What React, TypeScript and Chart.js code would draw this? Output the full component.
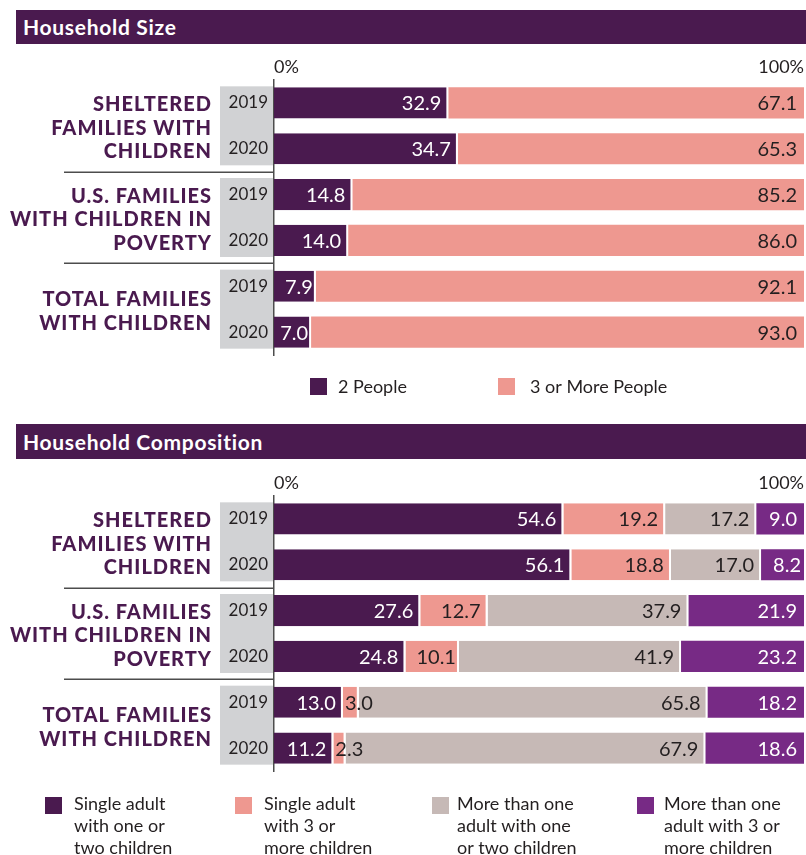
import React, { useEffect, useRef } from 'react';
import { Chart, registerables } from 'chart.js';

Chart.register(...registerables);

// ---------- data ----------
const years = ['2019', '2020', '2019', '2020', '2019', '2020'];
const groupLines = [
  ['SHELTERED', 'FAMILIES WITH', 'CHILDREN'],
  ['U.S. FAMILIES', 'WITH CHILDREN IN', 'POVERTY'],
  ['TOTAL FAMILIES', 'WITH CHILDREN'],
];
const xTicks = [0, 100];

const sizeTitle = 'Household Size';
const sizeSeries = [['2 People'], ['3 or More People']];
const twoPeople = [32.9, 34.7, 14.8, 14.0, 7.9, 7.0];
const threePlusPeople = [67.1, 65.3, 85.2, 86.0, 92.1, 93.0];

const compTitle = 'Household Composition';
const compSeries = [
  ['Single adult', 'with one or', 'two children'],
  ['Single adult', 'with 3 or', 'more children'],
  ['More than one', 'adult with one', 'or two children'],
  ['More than one', 'adult with 3 or', 'more children'],
];
const singleOneTwo = [54.6, 56.1, 27.6, 24.8, 13.0, 11.2];
const singleThreePlus = [19.2, 18.8, 12.7, 10.1, 3.0, 2.3];
const multiOneTwo = [17.2, 17.0, 37.9, 41.9, 65.8, 67.9];
const multiThreePlus = [9.0, 8.2, 21.9, 23.2, 18.2, 18.6];

// ---------- styles ----------
const PURPLE = '#4a1a4f';
const PINK = '#ee9890';
const TAUPE = '#c6b9b6';
const VIOLET = '#772a85';
const INK = '#231f20';
const GRAYBOX = '#d1d2d4';
const AXIS = '#4d4d4d';
const FONT = 'Lato, "Open Sans", sans-serif';

const decorPlugin = {
  id: 'decor',
  beforeDraw(chart: any) {
    const { ctx } = chart;
    const y = chart.scales.y;
    const meta = chart.getDatasetMeta(0);
    ctx.save();
    ctx.fillStyle = GRAYBOX;
    for (let g = 0; g < 3; g++) {
      const a = meta.data[2 * g];
      const b = meta.data[2 * g + 1];
      const top = a.y - a.height / 2 - 1;
      const bottom = b.y + b.height / 2 + 1;
      ctx.fillRect(y.left, top, y.right - y.left - 1, bottom - top);
    }
    ctx.restore();
  },
  afterDatasetsDraw(chart: any) {
    const { ctx, chartArea } = chart;
    ctx.save();
    ctx.font = `20px ${FONT}`;
    ctx.textBaseline = 'middle';
    chart.data.datasets.forEach((ds: any, di: number) => {
      const meta = chart.getDatasetMeta(di);
      meta.data.forEach((el: any, i: number) => {
        const v = ds.data[i];
        const left = Math.min(el.x, el.base);
        const right = Math.min(Math.max(el.x, el.base), chartArea.right);
        const w = right - left;
        const txt = v.toFixed(1);
        const tw = ctx.measureText(txt).width;
        ctx.fillStyle = ds.labelColor;
        if (tw + 16 <= w) {
          ctx.textAlign = 'right';
          ctx.fillText(txt, right - 7, el.y + 1);
        } else if (tw + 6 <= w) {
          ctx.textAlign = 'right';
          ctx.fillText(txt, right - 3, el.y + 1);
        } else {
          ctx.textAlign = 'left';
          ctx.fillText(txt, left + 2, el.y + 1);
        }
      });
    });
    ctx.restore();
  },
  afterDraw(chart: any, _args: any, opts: any) {
    const { ctx } = chart;
    const y = chart.scales.y;
    const meta = chart.getDatasetMeta(0);
    ctx.save();
    // separators
    ctx.strokeStyle = AXIS;
    ctx.lineWidth = 1.5;
    for (let g = 0; g < 2; g++) {
      const a = meta.data[2 * g + 1];
      const b = meta.data[2 * g + 2];
      const sy = Math.round((a.y + a.height / 2 + b.y - b.height / 2) / 2) + 0.25;
      ctx.beginPath();
      ctx.moveTo(64, sy);
      ctx.lineTo(y.right, sy);
      ctx.stroke();
    }
    // group labels
    ctx.fillStyle = PURPLE;
    ctx.font = `900 20px ${FONT}`;
    (ctx as any).letterSpacing = '1px';
    ctx.textAlign = 'right';
    ctx.textBaseline = 'middle';
    groupLines.forEach((lines, g) => {
      const cy = (meta.data[2 * g].y + meta.data[2 * g + 1].y) / 2;
      const lh = 23.5;
      lines.forEach((ln, k) => {
        ctx.fillText(ln, 212, cy + (k - (lines.length - 1) / 2) * lh + 2.5);
      });
    });
    (ctx as any).letterSpacing = '0px';
    // legend
    const lg = opts.legend;
    ctx.font = `18px ${FONT}`;
    ctx.textAlign = 'left';
    ctx.fillStyle = INK;
    chart.data.datasets.forEach((ds: any, di: number) => {
      ctx.fillStyle = ds.backgroundColor;
      ctx.fillRect(lg.squareX[di], lg.squareTop, 17, 17);
      ctx.fillStyle = INK;
      ds.legendLines.forEach((ln: string, k: number) => {
        ctx.fillText(ln, lg.textX[di], lg.textTop + k * lg.lineH);
      });
    });
    ctx.restore();
  },
};

function makeDataset(label: string[], data: number[], color: string, labelColor: string, last: boolean) {
  return {
    label: label.join(' '),
    legendLines: label,
    data,
    backgroundColor: color,
    labelColor,
    borderColor: '#ffffff',
    borderWidth: last ? 0 : { top: 0, right: 2, bottom: 0, left: 0 },
    borderSkipped: false,
    inflateAmount: 0,
    categoryPercentage: 1,
    barPercentage: 0.68,
  };
}

function buildConfig(datasets: any[], padTop: number, padBottom: number, legend: any): any {
  return {
    type: 'bar',
    data: { labels: years, datasets },
    options: {
      indexAxis: 'y',
      responsive: false,
      animation: false,
      events: [],
      layout: { padding: { left: 220, right: 2, top: padTop, bottom: padBottom } },
      scales: {
        x: {
          type: 'linear',
          position: 'top',
          stacked: true,
          min: 0,
          max: 100,
          afterFit: (s: any) => {
            s.height = 30;
          },
          afterBuildTicks: (s: any) => {
            s.ticks = xTicks.map((v) => ({ value: v }));
          },
          grid: { display: false, drawTicks: false },
          border: { display: false },
          ticks: {
            align: 'inner',
            padding: 2,
            maxRotation: 0,
            color: INK,
            font: { family: FONT, size: 18 },
            callback: (v: any) => v + '%',
          },
        },
        y: {
          type: 'category',
          stacked: true,
          afterFit: (s: any) => {
            s.width = 54;
          },
          grid: { display: false, drawTicks: false },
          border: { display: true, color: AXIS, width: 1.5 },
          ticks: { padding: 6, color: INK, font: { family: FONT, size: 17 } },
        },
      },
      plugins: {
        legend: { display: false },
        tooltip: { enabled: false },
        decor: { legend },
      },
    },
    plugins: [decorPlugin],
  };
}

const headerStyle = (top: number, height: number): React.CSSProperties => ({
  position: 'absolute',
  left: 16,
  top,
  width: 790,
  height,
  background: PURPLE,
  color: '#fff',
  fontFamily: FONT,
  fontWeight: 700,
  fontSize: 21,
  letterSpacing: '0.7px',
  lineHeight: height + 'px',
  paddingLeft: 7,
  boxSizing: 'border-box',
  zIndex: 2,
});

export default function App() {
  const ref1 = useRef<HTMLCanvasElement>(null);
  const ref2 = useRef<HTMLCanvasElement>(null);

  useEffect(() => {
    const sizeSets = [
      makeDataset(sizeSeries[0], twoPeople, PURPLE, '#ffffff', false),
      makeDataset(sizeSeries[1], threePlusPeople, PINK, INK, true),
    ];
    const compSets = [
      makeDataset(compSeries[0], singleOneTwo, PURPLE, '#ffffff', false),
      makeDataset(compSeries[1], singleThreePlus, PINK, INK, false),
      makeDataset(compSeries[2], multiOneTwo, TAUPE, INK, false),
      makeDataset(compSeries[3], multiThreePlus, VIOLET, '#ffffff', true),
    ];
    const c1 = new Chart(
      ref1.current as HTMLCanvasElement,
      buildConfig(sizeSets, 50, 65, {
        squareX: [310, 498],
        textX: [338, 530],
        squareTop: 378,
        textTop: 387,
        lineH: 22,
      })
    );
    const c2 = new Chart(
      ref2.current as HTMLCanvasElement,
      buildConfig(compSets, 46, 84, {
        squareX: [45, 235, 432, 637],
        textX: [74, 264, 457, 664],
        squareTop: 377,
        textTop: 384,
        lineH: 22,
      })
    );
    return () => {
      c1.destroy();
      c2.destroy();
    };
  }, []);

  return (
    <div style={{ position: 'absolute', left: 0, top: 0, width: 806, height: 855, background: '#fff' }}>
      <canvas ref={ref1} width={806} height={420} style={{ position: 'absolute', left: 0, top: 0 }} />
      <canvas ref={ref2} width={806} height={435} style={{ position: 'absolute', left: 0, top: 420 }} />
      <div style={headerStyle(10, 34)}>{sizeTitle}</div>
      <div style={headerStyle(424, 35)}>{compTitle}</div>
    </div>
  );
}
